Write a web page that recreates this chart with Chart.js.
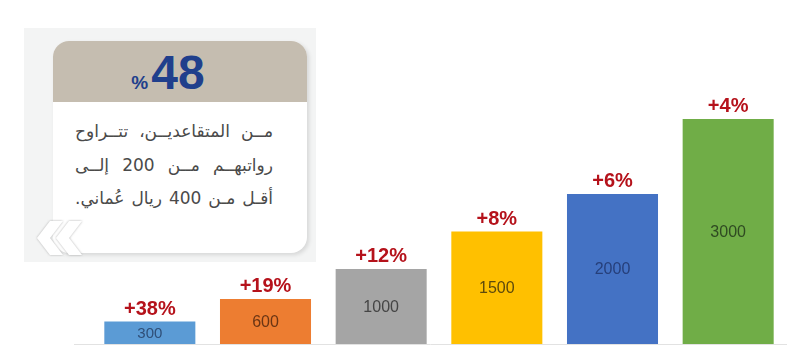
<!DOCTYPE html>
<html lang="ar">
<head>
<meta charset="utf-8">
<script src="https://cdn.jsdelivr.net/npm/chart.js@4/dist/chart.umd.min.js"></script>
<style>
  body { margin: 0; background: #fff; }
  #wrap { position: relative; width: 795px; height: 362px; overflow: hidden; }
  #panel { position: absolute; left: 24px; top: 28px; width: 292px; height: 234px; background: #f3f4f4; }
  #card {
    position: absolute; left: 53px; top: 41px; width: 254px; height: 212px;
    background: #fff; border-radius: 16px; overflow: hidden;
    box-shadow: 2px 2px 4px rgba(0,0,0,0.12);
  }
  #card .head {
    height: 61px; background: #c5bdb0; text-align: center; direction: ltr;
    font-family: "Liberation Sans", Arial, sans-serif; color: #203f8c;
    padding-right: 24px; box-sizing: border-box;
  }
  #card .head .num { font-size: 48px; font-weight: bold; line-height: 63px; }
  #card .head .pct { font-size: 19px; font-weight: bold; margin-right: 3px; }
  #card .body {
    direction: rtl; text-align: justify; text-align-last: justify;
    font-family: "DejaVu Sans", "Noto Sans", sans-serif; font-size: 17px; color: #4a4a4a;
    padding: 13px 34px 0 22px; line-height: 33.5px;
  }
  #card .body div { text-align-last: justify; }
  #chev { position: absolute; left: 30px; top: 217px; }
</style>
</head>
<body>
<div id="wrap">
  <canvas id="salaryChart" width="795" height="362"></canvas>
  <div id="panel"></div>
  <div id="card">
    <div class="head"><span class="pct">%</span><span class="num">48</span></div>
    <div class="body">
      <div>مــن المتقاعديــن، تتــراوح</div>
      <div>رواتبهــم مــن 200 إلــى</div>
      <div>أقـل مـن 400 ريال عُماني.</div>
    </div>
  </div>
  <svg id="chev" width="62" height="42" viewBox="0 0 62 42">
    <defs>
      <filter id="sh" x="-20%" y="-20%" width="140%" height="140%">
        <feDropShadow dx="0" dy="0" stdDeviation="1.2" flood-color="#999" flood-opacity="0.8"/>
      </filter>
    </defs>
    <polygon points="20,4 33,4 20,21 33,38 20,38 7,21" fill="#fff" filter="url(#sh)"/>
    <polygon points="39,4 52,4 39,21 52,38 39,38 26,21" fill="#fff" filter="url(#sh)"/>
  </svg>
</div>
<script>
const categories = ['300', '600', '1000', '1500', '2000', '3000'];
const salaryValues = [300, 600, 1000, 1500, 2000, 3000];
const increaseLabels = ['+38%', '+19%', '+12%', '+8%', '+6%', '+4%'];
const barColors = ['#5b9bd5', '#ed7d31', '#a5a5a5', '#ffc000', '#4472c4', '#70ad47'];
const valueTextColors = ['#2f4f78', '#6a3514', '#454545', '#5e4a0c', '#263f7a', '#2f4a22'];

const labelsPlugin = {
    id: 'barLabels',
    beforeDatasetsDraw(chart) {
        const { ctx, scales } = chart;
        const y0 = Math.round(scales.y.getPixelForValue(0)) + 0.5;
        ctx.save();
        ctx.strokeStyle = '#e2e2e2';
        ctx.lineWidth = 1;
        ctx.beginPath();
        ctx.moveTo(74, y0);
        ctx.lineTo(787, y0);
        ctx.stroke();
        ctx.restore();
    },
    afterDatasetsDraw(chart) {
        const { ctx } = chart;
        const meta = chart.getDatasetMeta(0);
        ctx.save();
        ctx.textAlign = 'center';
        meta.data.forEach((bar, i) => {
            const mid = (bar.y + bar.base) / 2;
            ctx.fillStyle = valueTextColors[i];
            ctx.font = (i === 0 ? '15px' : '16px') + ' "Liberation Sans", Arial, sans-serif';
            ctx.textBaseline = 'middle';
            ctx.fillText(categories[i], bar.x, mid + 1);

            ctx.fillStyle = '#b5121b';
            ctx.font = 'bold 20px "Liberation Sans", Arial, sans-serif';
            ctx.textBaseline = 'alphabetic';
            ctx.fillText(increaseLabels[i], bar.x, bar.y - 7);
        });
        ctx.restore();
    }
};

new Chart(document.getElementById('salaryChart'), {
    type: 'bar',
    data: {
        labels: categories,
        datasets: [{
            data: salaryValues,
            backgroundColor: barColors,
            borderWidth: 0,
            categoryPercentage: 1,
            barPercentage: 0.787
        }]
    },
    options: {
        responsive: false,
        animation: false,
        layout: { padding: { left: 92, right: 9, top: 44, bottom: 18 } },
        plugins: { legend: { display: false }, tooltip: { enabled: false } },
        scales: {
            x: { display: false },
            y: { display: false, min: 0, max: 4000 }
        }
    },
    plugins: [labelsPlugin]
});
</script>
</body>
</html>
